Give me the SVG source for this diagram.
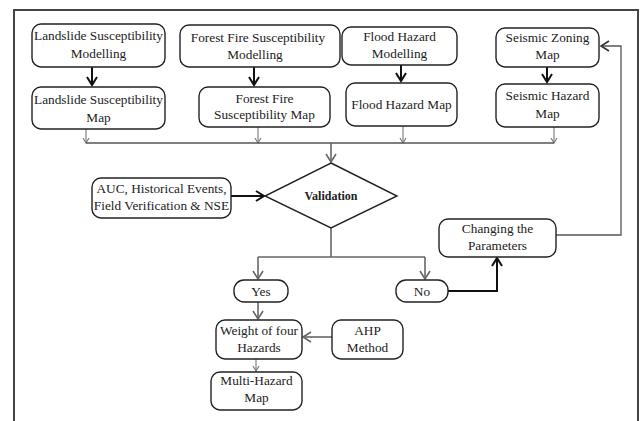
<svg xmlns="http://www.w3.org/2000/svg" width="641" height="421" viewBox="0 0 641 421">
<style>
.box{fill:#fff;stroke:#222;stroke-width:1.4}
text{font-family:"Liberation Serif",serif;font-size:13.3px;fill:#222;text-anchor:middle}
.b{font-weight:bold;font-size:12px}
.thin{fill:none;stroke:#777;stroke-width:1.1}
.mid{fill:none;stroke:#666;stroke-width:1.6}
.thick{fill:none;stroke:#111;stroke-width:2}
.gline{fill:none;stroke:#555;stroke-width:1.3}
</style>
<defs>
<marker id="as" markerWidth="8" markerHeight="8" refX="6" refY="4" orient="auto" markerUnits="userSpaceOnUse"><path d="M1,1 L6,4 L1,7" fill="none" stroke="#777" stroke-width="1.1"/></marker>
<marker id="am" markerWidth="12" markerHeight="12" refX="10" refY="6" orient="auto" markerUnits="userSpaceOnUse"><path d="M2,1 L10,6 L2,11" fill="none" stroke="#666" stroke-width="1.6"/></marker>
<marker id="ak" markerWidth="12" markerHeight="12" refX="10" refY="6" orient="auto" markerUnits="userSpaceOnUse"><path d="M2,1 L10,6 L2,11" fill="none" stroke="#111" stroke-width="2"/></marker>
<marker id="ag" markerWidth="12" markerHeight="12" refX="10" refY="6" orient="auto" markerUnits="userSpaceOnUse"><path d="M2,1 L10,6 L2,11" fill="none" stroke="#333" stroke-width="1.6"/></marker>
</defs>
<rect x="0" y="0" width="641" height="421" fill="#fff"/>
<path d="M14,421 V10 H638 V421" fill="none" stroke="#444" stroke-width="2"/>

<g id="connectors">
<path class="thick" d="M92,67 V85" marker-end="url(#ak)"/>
<path class="thick" d="M254,67 V85" marker-end="url(#ak)"/>
<path class="thick" d="M401,65 V81" marker-end="url(#ak)"/>
<path class="thick" d="M547,67 V82" marker-end="url(#ak)"/>
<path class="thin" d="M86,129 V143" marker-end="url(#as)"/>
<path class="thin" d="M258,127 V143" marker-end="url(#as)"/>
<path class="thin" d="M403,126 V143" marker-end="url(#as)"/>
<path class="thin" d="M554,127 V143" marker-end="url(#as)"/>
<path class="gline" d="M86,143 H554"/>
<path class="mid" d="M331,143 V162" marker-end="url(#am)"/>
<path class="thick" d="M231,196 H264" marker-end="url(#ak)"/>
<path class="mid" d="M331,228 V257 M258,257 H425"/>
<path class="mid" d="M258,257 V279" marker-end="url(#am)"/>
<path class="mid" d="M425,257 V279" marker-end="url(#am)"/>
<path class="thick" d="M448,291 H497 V258" marker-end="url(#ak)"/>
<path class="gline" d="M556,235 H621 V46 H601" marker-end="url(#ag)"/>
<path class="mid" d="M258,302 V319" marker-end="url(#am)"/>
<path class="mid" d="M332,337 H303" marker-end="url(#am)"/>
<path class="thin" d="M256,359 V371" marker-end="url(#as)"/>
</g>

<g id="n1"><rect class="box" x="32" y="24" width="133" height="43" rx="9"/><text x="98.5" y="39.5">Landslide Susceptibility</text><text x="98.5" y="57.5">Modelling</text></g>
<g id="n2"><rect class="box" x="32" y="87" width="133" height="42" rx="9"/><text x="98.5" y="103.5">Landslide Susceptibility</text><text x="98.5" y="121.5">Map</text></g>
<g id="n3"><rect class="box" x="180" y="25" width="160" height="42" rx="9"/><text x="258" y="41.5">Forest Fire Susceptibility</text><text x="255" y="58.5">Modelling</text></g>
<g id="n4"><rect class="box" x="199" y="87" width="131" height="40" rx="9"/><text x="264.5" y="102.5">Forest Fire</text><text x="264.5" y="118.5">Susceptibility Map</text></g>
<g id="n5"><rect class="box" x="342" y="27" width="115" height="38" rx="9"/><text x="399.5" y="40.5">Flood Hazard</text><text x="399.5" y="57.5">Modelling</text></g>
<g id="n6"><rect class="box" x="346" y="83" width="111" height="43" rx="9"/><text x="401.5" y="108.5">Flood Hazard Map</text></g>
<g id="n7"><rect class="box" x="496" y="28" width="103" height="39" rx="9"/><text x="547.5" y="41.5">Seismic Zoning</text><text x="547.5" y="58.5">Map</text></g>
<g id="n8"><rect class="box" x="496" y="84" width="103" height="43" rx="9"/><text x="547.5" y="99.5">Seismic Hazard</text><text x="547.5" y="117.5">Map</text></g>
<g id="n9"><rect class="box" x="92" y="178" width="139" height="40" rx="9"/><text x="161.5" y="192.5">AUC, Historical Events,</text><text x="161.5" y="209.5">Field Verification &amp; NSE</text></g>
<g id="n10"><polygon points="331,163 397,196 331,228 265,196" fill="#fff" stroke="#222" stroke-width="1.4"/><text class="b" x="331" y="200">Validation</text></g>
<g id="n11"><rect class="box" x="439" y="219" width="117" height="38" rx="9"/><text x="497.5" y="232.5">Changing the</text><text x="497.5" y="249.5">Parameters</text></g>
<g id="n12"><rect class="box" x="234" y="280" width="54" height="22" rx="10"/><text x="261" y="295.5">Yes</text></g>
<g id="n13"><rect class="box" x="396" y="280" width="52" height="22" rx="10"/><text x="422" y="295.5">No</text></g>
<g id="n14"><rect class="box" x="216" y="320" width="86" height="39" rx="9"/><text x="259" y="334.5">Weight of four</text><text x="259" y="351.5">Hazards</text></g>
<g id="n15"><rect class="box" x="332" y="320" width="71" height="39" rx="9"/><text x="367.5" y="334.5">AHP</text><text x="367.5" y="351.5">Method</text></g>
<g id="n16"><rect class="box" x="211" y="372" width="91" height="38" rx="9"/><text x="256.5" y="384.5">Multi-Hazard</text><text x="256.5" y="401.5">Map</text></g>
</svg>
